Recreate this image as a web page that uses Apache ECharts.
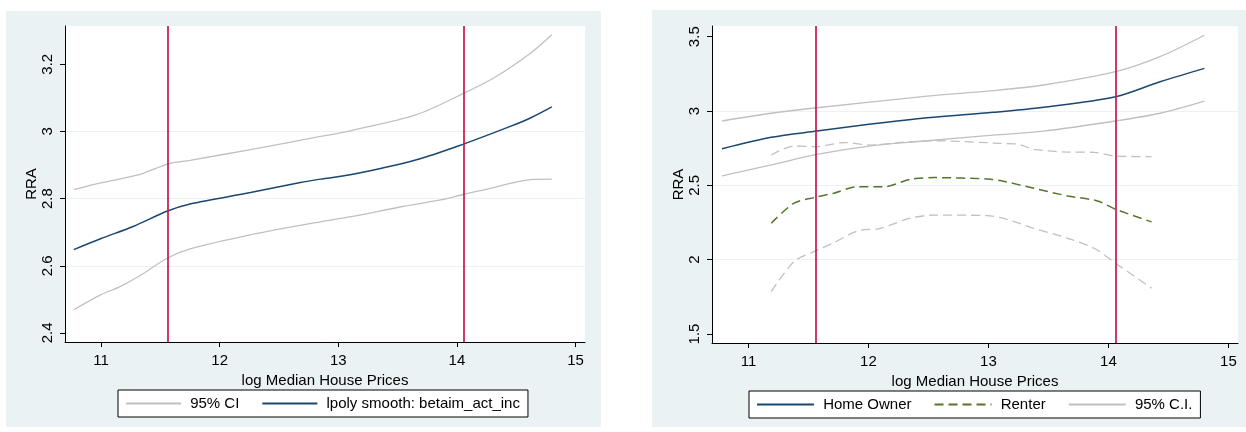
<!DOCTYPE html>
<html>
<head>
<meta charset="utf-8">
<script src="https://cdn.jsdelivr.net/npm/echarts@6/dist/echarts.min.js"></script>
<style>
html,body{margin:0;padding:0;background:#fff;}
#chart{width:1246px;height:432px;}
</style>
</head>
<body>
<div id="chart"></div>
<script>
// ---- Data (x = log Median House Prices, y = RRA) ----
var xTicks = [11, 12, 13, 14, 15];
var leftYTicks = [2.4, 2.6, 2.8, 3, 3.2];
var rightYTicks = [1.5, 2, 2.5, 3, 3.5];
var cutoffs = [11.56, 14.06];

// Left panel
var leftSmooth = [[10.77,2.648],[11.0,2.681],[11.27,2.717],[11.56,2.763],[11.75,2.784],[12.26,2.818],[12.68,2.848],[12.85,2.858],[13.1,2.871],[13.66,2.916],[14.06,2.963],[14.45,3.015],[14.62,3.04],[14.80,3.073]];
var leftUpper = [[10.77,2.827],[11.0,2.847],[11.33,2.872],[11.56,2.903],[11.75,2.914],[12.26,2.946],[12.85,2.985],[13.1,3.002],[13.66,3.05],[14.06,3.114],[14.31,3.159],[14.62,3.233],[14.80,3.288]];
var leftLower = [[10.77,2.469],[11.0,2.514],[11.16,2.538],[11.33,2.571],[11.56,2.623],[11.75,2.65],[12.26,2.692],[12.85,2.731],[13.16,2.749],[13.52,2.775],[13.86,2.796],[14.06,2.813],[14.23,2.826],[14.64,2.857],[14.80,2.858]];

// Right panel: home owners
var ownerFit = [[10.78,2.746],[11.19,2.823],[11.57,2.865],[12.02,2.912],[12.49,2.955],[13.04,2.991],[13.46,3.025],[14.06,3.096],[14.43,3.197],[14.80,3.287]];
var ownerUpper = [[10.78,2.933],[11.19,2.985],[11.57,3.022],[12.49,3.10],[13.04,3.137],[13.46,3.175],[14.06,3.265],[14.43,3.366],[14.80,3.51]];
var ownerLower = [[10.78,2.564],[11.19,2.637],[11.57,2.708],[12.02,2.766],[12.49,2.80],[13.04,2.838],[13.46,2.865],[14.06,2.933],[14.43,2.985],[14.80,3.067]];
// Right panel: renters
var renterFit = [[11.19,2.245],[11.38,2.38],[11.56,2.42],[11.71,2.447],[11.91,2.491],[12.13,2.491],[12.35,2.541],[12.55,2.552],[12.99,2.543],[13.10,2.532],[13.38,2.48],[13.66,2.429],[13.91,2.395],[14.06,2.339],[14.36,2.254]];
var renterUpper = [[11.19,2.704],[11.38,2.765],[11.56,2.76],[11.80,2.788],[12.02,2.771],[12.27,2.789],[12.55,2.80],[12.99,2.787],[13.10,2.782],[13.24,2.778],[13.38,2.742],[13.66,2.724],[13.88,2.722],[14.06,2.697],[14.36,2.693]];
var renterLower = [[11.19,1.785],[11.38,1.987],[11.56,2.059],[11.71,2.114],[11.91,2.193],[12.10,2.211],[12.35,2.279],[12.55,2.30],[12.99,2.296],[13.10,2.283],[13.24,2.249],[13.38,2.211],[13.66,2.144],[13.88,2.077],[14.06,1.976],[14.36,1.808]];

// ---- Styles ----
var FONT = 'Liberation Sans, Arial, sans-serif';
var BG = '#eaf2f3';
var NAVY = '#1a476f';
var GRAY = '#c0c0c0';
var GREEN = '#55752f';
var RED = '#c8174a';

function xAxisCfg(gridIndex) {
  return {
    type: 'value', gridIndex: gridIndex, min: 10.696, max: 15.08,
    name: 'log Median House Prices', nameLocation: 'middle', nameGap: 21,
    nameTextStyle: {fontFamily: FONT, fontSize: 15, color: '#000'},
    axisLine: {show: true, onZero: false, lineStyle: {color: '#000', width: 1}},
    axisTick: {show: true, inside: false, length: 5, customValues: xTicks, lineStyle: {color: '#000'}},
    axisLabel: {customValues: xTicks, margin: 11, fontFamily: FONT, fontSize: 15, color: '#000'},
    splitLine: {show: false}
  };
}
function yAxisCfg(gridIndex, min, max, ticks) {
  return {
    type: 'value', gridIndex: gridIndex, min: min, max: max,
    name: 'RRA', nameLocation: 'middle', nameGap: 26, nameRotate: 90,
    nameTextStyle: {fontFamily: FONT, fontSize: 15, color: '#000'},
    axisLine: {show: true, onZero: false, lineStyle: {color: '#000', width: 1}},
    axisTick: {show: true, inside: false, length: 5, customValues: ticks, lineStyle: {color: '#000'}},
    axisLabel: {customValues: ticks, rotate: 90, margin: 10, fontFamily: FONT, fontSize: 15, color: '#000'},
    splitLine: {show: true, showMinLine: false, showMaxLine: false, lineStyle: {color: BG, width: 1}}
  };
}
function lineSeries(name, data, xi, color, width, dashed, extra) {
  var s = {
    type: 'line', name: name, data: data, xAxisIndex: xi, yAxisIndex: xi,
    showSymbol: false, symbol: 'none', smooth: 0.3, silent: true,
    lineStyle: {color: color, width: width, type: dashed ? [9, 5] : 'solid'},
    itemStyle: {color: color}
  };
  if (extra) for (var k in extra) s[k] = extra[k];
  return s;
}
function cutoffMarks() {
  return {
    silent: true, symbol: ['none', 'none'], label: {show: false},
    lineStyle: {color: RED, width: 1.7, type: 'solid'},
    emphasis: {disabled: true},
    data: cutoffs.map(function (v) { return {xAxis: v}; })
  };
}
function legendCfg(names, left, top, itemWidth) {
  return {
    data: names, left: left, top: top, orient: 'horizontal',
    backgroundColor: '#fff', borderColor: '#000', borderWidth: 1,
    padding: [6, 8, 6, 7], itemGap: 22, itemWidth: itemWidth, itemHeight: 14,
    selectedMode: false,
    itemStyle: {opacity: 0, borderWidth: 0},
    formatter: function (n) { return ' ' + n; },
    textStyle: {fontFamily: FONT, fontSize: 15, color: '#000'}
  };
}

var chart = echarts.init(document.getElementById('chart'), null, {renderer: 'canvas'});
chart.setOption({
  animation: false,
  backgroundColor: '#fff',
  textStyle: {fontFamily: FONT},
  graphic: [
    {type: 'rect', z: -10, shape: {x: 6, y: 11, width: 595, height: 416}, style: {fill: BG}},
    {type: 'rect', z: -10, shape: {x: 652, y: 10, width: 594, height: 417}, style: {fill: BG}}
  ],
  grid: [
    {left: 65, top: 26, width: 520, height: 316, show: true, backgroundColor: '#fff', borderWidth: 0},
    {left: 712, top: 26, width: 526, height: 317, show: true, backgroundColor: '#fff', borderWidth: 0}
  ],
  xAxis: [xAxisCfg(0), xAxisCfg(1)],
  yAxis: [yAxisCfg(0, 2.373, 3.314, leftYTicks), yAxisCfg(1, 1.4394, 3.572, rightYTicks)],
  legend: [
    legendCfg(['95% CI', 'lpoly smooth: betaim_act_inc'], 118, 390, 55),
    legendCfg(['Home Owner', 'Renter', '95% C.I.'], 749, 391, 57)
  ],
  series: [
    lineSeries('95% CI', leftUpper, 0, GRAY, 1.3, false),
    lineSeries('95% CI', leftLower, 0, GRAY, 1.3, false),
    lineSeries('lpoly smooth: betaim_act_inc', leftSmooth, 0, NAVY, 1.5, false, {markLine: cutoffMarks()}),
    lineSeries('95% C.I.', ownerUpper, 1, GRAY, 1.3, false),
    lineSeries('95% C.I.', ownerLower, 1, GRAY, 1.3, false),
    lineSeries('95% C.I.', renterUpper, 1, GRAY, 1.3, true),
    lineSeries('95% C.I.', renterLower, 1, GRAY, 1.3, true),
    lineSeries('Home Owner', ownerFit, 1, NAVY, 1.5, false, {markLine: cutoffMarks()}),
    lineSeries('Renter', renterFit, 1, GREEN, 1.5, true)
  ]
});
</script>
</body>
</html>
